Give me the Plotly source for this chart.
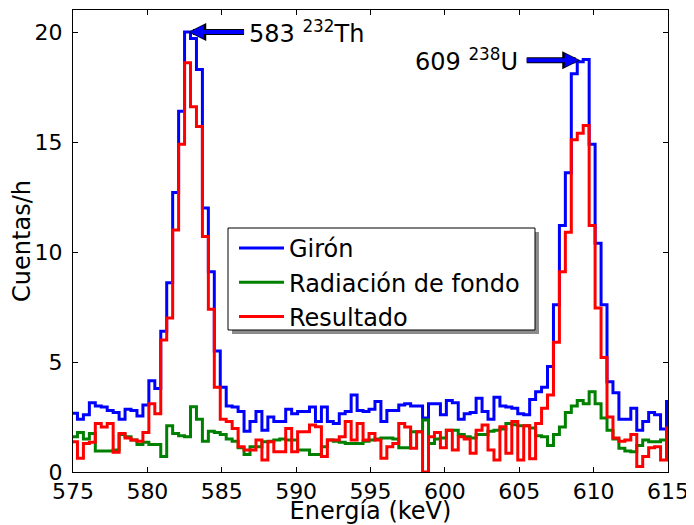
import plotly.graph_objects as go

# ---- data (counts per hour, 0.4 keV bins) ----
bin_width = 0.4
first_center = 575.1

giron = [2.67, 2.4, 2.6, 3.15, 3.0, 2.95, 2.8, 2.7, 2.4, 2.85,
         2.8, 2.55, 3.05, 4.15, 3.8, 6.4, 8.6, 12.7, 16.4, 20.0,
         19.7, 18.3, 12.0, 9.1, 5.5, 3.85, 3.0, 2.95, 2.75, 1.85,
         2.3, 2.75, 1.9, 2.5, 2.3, 2.3, 2.85, 2.65, 2.75, 2.75,
         2.95, 2.3, 2.95, 2.3, 2.2, 2.65, 2.75, 3.5, 2.8, 2.75,
         2.85, 3.2, 2.3, 2.8, 2.8, 3.05, 3.1, 3.0, 3.0, 2.45,
         3.1, 3.1, 2.6, 3.25, 3.15, 2.4, 2.65, 2.7, 3.35, 2.75,
         2.4, 3.4, 3.0, 2.95, 2.9, 2.65, 2.6, 3.3, 3.65, 3.85,
         4.8, 7.6, 11.2, 13.6, 18.1, 18.65, 18.75, 14.9, 10.4, 7.6,
         4.1, 3.6, 2.4, 2.4, 2.9, 1.9, 2.3, 2.7, 2.6, 1.95,
         3.2]

fondo = [1.6, 1.8, 1.5, 1.75, 0.95, 0.95, 0.95, 1.0, 1.7, 1.6,
         1.45, 1.25, 1.35, 1.25, 1.25, 0.7, 2.1, 1.75, 1.65, 1.6,
         2.97, 2.4, 1.4, 1.85, 1.8, 1.7, 1.5, 1.4, 1.1, 0.8,
         1.15, 1.15, 1.38, 1.4, 1.45, 1.5, 1.45, 1.45, 1.0, 1.0,
         0.8, 0.8, 1.15, 1.45, 1.4, 1.35, 1.3, 1.3, 1.3, 1.4,
         1.45, 1.5, 1.55, 1.55, 1.5, 1.1, 1.1, 1.83, 1.83, 2.36,
         1.3, 1.5, 1.55, 1.9, 1.9, 1.7, 1.6, 1.55, 1.7, 1.7,
         1.85, 1.9, 1.95, 2.2, 2.15, 2.1, 2.1, 2.0, 1.65, 1.6,
         1.2, 1.7, 2.05, 2.7, 3.0, 3.25, 3.1, 3.65, 3.1, 2.45,
         1.9, 1.5, 1.08, 0.95, 0.92, 1.2, 1.45, 1.38, 1.38, 1.45,
         1.45]

resultado = [1.38, 0.62, 1.3, 1.35, 2.2, 2.05, 2.2, 0.9, 1.75, 1.55,
             1.45, 1.4, 1.8, 3.1, 2.65, 6.0, 7.0, 11.0, 14.9, 18.6,
             16.6, 15.7, 10.7, 7.4, 3.85, 2.4, 2.3, 1.98, 1.15, 1.0,
             1.0, 1.45, 0.55, 1.38, 0.92, 0.92, 1.98, 0.92, 1.83, 1.83,
             2.14, 2.06, 0.7, 1.45, 1.45, 1.6, 2.29, 1.45, 2.2, 1.45,
             1.75, 1.45, 0.62, 1.15, 1.3, 2.2, 2.05, 1.08, 1.83, 0.0,
             1.6, 1.8, 1.1, 1.9, 1.0, 1.6, 1.5, 0.85, 1.9, 2.14,
             1.0, 0.55, 2.06, 0.85, 2.29, 0.55, 2.1, 0.6, 2.2, 2.9,
             3.5, 5.9, 9.1, 10.9, 15.1, 15.4, 15.75, 11.2, 7.45, 5.2,
             2.5, 1.55, 1.4, 1.45, 1.7, 0.25, 0.7, 1.1, 1.15, 0.55,
             2.0]

series_names = ["Girón", "Radiación de fondo", "Resultado"]
series_colors = ["#0000ff", "#008000", "#ff0000"]

x_ticks = [575, 580, 585, 590, 595, 600, 605, 610, 615]
y_ticks = [0, 5, 10, 15, 20]

# ---- build step outlines from the bin centres ----
n = len(giron)
centers = [first_center + bin_width * k for k in range(n)]
edges = [c - bin_width / 2 for c in centers] + [centers[-1] + bin_width / 2]

fig = go.Figure()
for name, vals, col in zip(series_names, [giron, fondo, resultado], series_colors):
    fig.add_trace(go.Scatter(
        x=edges, y=list(vals) + [vals[-1]], mode="lines", name=name,
        line=dict(shape="hv", color=col, width=3),
    ))

FONT = "DejaVu Sans"
fs_tick = 22
fs_title = 24
fs_leg = 24
fs_ann = 24

axis_common = dict(
    showline=True, linecolor="black", linewidth=1, mirror="allticks",
    ticks="inside", ticklen=5, tickwidth=1, tickcolor="black",
    showgrid=False, zeroline=False, automargin=False,
    tickfont=dict(family=FONT, size=fs_tick, color="black"),
)

fig.update_xaxes(range=[575, 615], tickvals=x_ticks, ticktext=[str(v) for v in x_ticks],
                 title=dict(text="Energía (keV)", font=dict(family=FONT, size=fs_title, color="black"),
                            standoff=16),
                 ticklabelstandoff=0, **axis_common)
fig.update_yaxes(range=[0, 21], tickvals=y_ticks, ticktext=[str(v) for v in y_ticks],
                 title=dict(text="Cuentas/h", font=dict(family=FONT, size=fs_title, color="black"),
                            standoff=0),
                 ticklabelstandoff=5, **axis_common)

# page offset of the figure (browser body margin) and plot-area box in page pixels
OFF = 8
W, H = 694, 525
L, R, T, B = 73, 668, 10, 472
def px(x):
    return (x - L) / (R - L)
def py(y):
    return (B - y) / (B - T)

# legend frame with shadow (paper coordinates)
box = (228, 228, 535, 330)
sh = 4
fig.add_shape(type="rect", xref="paper", yref="paper",
              x0=px(box[0] + sh), x1=px(box[2] + sh), y0=py(box[3] + sh), y1=py(box[1] + sh),
              fillcolor="#8c8c8c", line=dict(width=0), layer="above")
fig.add_shape(type="rect", xref="paper", yref="paper",
              x0=px(box[0]), x1=px(box[2]), y0=py(box[3]), y1=py(box[1]),
              fillcolor="white", line=dict(color="black", width=1), layer="above")

# peak labels with arrows
for (tipx, tipy, tailx, taily) in [(582.75, 20.0, 586.6, 20.0), (609.1, 18.72, 605.4, 18.72)]:
    fig.add_annotation(x=tipx, y=tipy, ax=tailx, ay=taily, axref="x", ayref="y",
                       text="", showarrow=True, arrowhead=2, arrowsize=0.6,
                       arrowwidth=6, arrowcolor="black", standoff=0)
    fig.add_annotation(x=tipx, y=tipy, ax=tailx, ay=taily, axref="x", ayref="y",
                       text="", showarrow=True, arrowhead=2, arrowsize=0.7,
                       arrowwidth=4, arrowcolor="#0000ff", standoff=1.5)

fig.add_annotation(x=586.75, y=20.0, text="583 <sup>232</sup>Th", showarrow=False,
                   xanchor="left", yanchor="middle", borderpad=0,
                   font=dict(family=FONT, size=fs_ann, color="black"))
fig.add_annotation(x=605.0, y=18.72, text="609 <sup>238</sup>U", showarrow=False,
                   xanchor="right", yanchor="middle", borderpad=0,
                   font=dict(family=FONT, size=fs_ann, color="black"))

fig.update_layout(
    width=W - OFF, height=H - OFF,
    margin=dict(l=L - OFF, r=W - R, t=T - OFF, b=H - B, autoexpand=False),
    paper_bgcolor="white", plot_bgcolor="white",
    font=dict(family=FONT, size=fs_tick, color="black"),
    showlegend=True,
    legend=dict(x=px(234), y=py(226), xanchor="left", yanchor="top",
                bgcolor="rgba(0,0,0,0)", borderwidth=0,
                font=dict(family=FONT, size=fs_leg, color="black"),
                itemwidth=45),
)

fig.write_html("out.html")
